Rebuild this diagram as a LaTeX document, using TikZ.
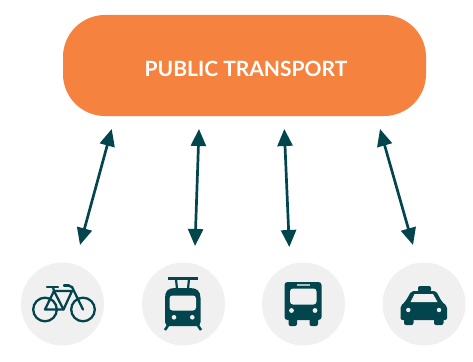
\documentclass[tikz,border=0pt]{standalone}
\usepackage{fontspec}
\setmainfont{Lato}
\usetikzlibrary{arrows.meta}
\definecolor{teal}{HTML}{03454C}
\definecolor{orng}{HTML}{F5833F}
\definecolor{pale}{HTML}{F0F0F0}
\tikzset{
  hub/.style={draw=none,fill=orng,rounded corners=42pt,minimum width=363pt,minimum height=101pt,inner sep=0pt,text=white,font=\fontsize{21}{21}\selectfont\bfseries},
  mode/.style={circle,draw=none,fill=pale,minimum size=83pt,inner sep=0pt},
  link/.style={draw=teal,line width=2.7pt,{Triangle[length=17pt,width=15pt]}-{Triangle[length=17pt,width=15pt]}},
  solid icon/.style={fill=teal,draw=none},
  hole/.style={fill=pale,draw=none},
  bikeline/.style={draw=teal,line width=2.3pt,line join=round,line cap=round}
}
\begin{document}
\begin{tikzpicture}[x=1pt,y=-1pt]
\useasboundingbox (0,0) rectangle (473,361);
\fill[white] (0,0) rectangle (473,361);
\node[hub] (pt) at (244.5,65.5) {\kern3pt\raisebox{-10.8pt}[0pt][0pt]{PUBLIC TRANSPORT}};
\node[mode] (bike) at (62.5,304) {};
\node[mode] (tram) at (183.5,304) {};
\node[mode] (bus) at (303.5,304) {};
\node[mode] (taxi) at (424,304) {};
\coordinate (a1) at (111.7,129); \coordinate (b1) at (80,245);
\coordinate (a2) at (199,129);   \coordinate (b2) at (195,246);
\coordinate (a3) at (284.3,129); \coordinate (b3) at (289.3,247);
\coordinate (a4) at (380,129);   \coordinate (b4) at (413,245);
\draw[link] (a1) -- (b1);
\draw[link] (a2) -- (b2);
\draw[link] (a3) -- (b3);
\draw[link] (a4) -- (b4);
% bicycle
\draw[bikeline] (45,309.5) circle (11.8);
\draw[bikeline] (83,309.5) circle (11.8);
\draw[bikeline] (45,309.5) -- (54,291) -- (72,291) -- (63.5,309.5) -- cycle;
\draw[bikeline] (54,291) -- (63.5,309.5);
\draw[bikeline] (68,285.5) -- (72,287) -- (83,309.5);
\draw[bikeline] (47,287) -- (58,287);
\draw[bikeline] (53,287) -- (54,291);
\draw[bikeline] (64,285.5) -- (69,285.5);
% tram
\draw[teal,line width=3pt] (168,278.5) -- (198,278.5);
\draw[teal,line width=2.2pt] (176,279) -- (177,289) (189,279) -- (188,289);
\draw[teal,line width=2.6pt] (169,324) -- (165,330) (197,324) -- (201,330);
\fill[solid icon] (165,298) .. controls (165,291) and (168,288) .. (175,288) -- (190,288) .. controls (197,288) and (200.5,291) .. (200.5,298) -- (200.5,322) .. controls (200.5,325) and (199,326) .. (197,326) -- (169,326) .. controls (167,326) and (165,325) .. (165,322) -- cycle;
\fill[hole,rounded corners=3pt] (169.5,295.5) rectangle (196,310.5);
\fill[hole] (174,317.3) circle (2.3) (192.3,317.3) circle (2.3);
% bus
\fill[solid icon,rounded corners=3pt] (284.5,282) rectangle (321.5,320);
\fill[solid icon,rounded corners=2pt] (288.5,314) rectangle (297,326);
\fill[solid icon,rounded corners=2pt] (309.5,314) rectangle (318,326);
\fill[hole,rounded corners=3pt] (290,288.5) rectangle (316.5,304.5);
\fill[pale!70!teal] (296.5,284) rectangle (310,286);
\fill[hole] (291.5,310.5) circle (2.4) (315,310.5) circle (2.4);
% taxi
\fill[solid icon,rounded corners=2pt] (418,286) rectangle (431,292);
\fill[solid icon,rounded corners=2pt] (400.5,320) -- (400.5,306) -- (405,302) -- (411.5,291) -- (436,291) -- (442,302) -- (447,306) -- (447,320) -- cycle;
\fill[solid icon,rounded corners=2pt] (404,315) rectangle (413.5,325);
\fill[solid icon,rounded corners=2pt] (434,315) rectangle (443.5,325);
\fill[hole] (414.5,294) -- (433,294) -- (437.5,302) -- (410.5,302) -- cycle;
\fill[hole] (408.3,310) circle (2.2) (439,310) circle (2.2);
\end{tikzpicture}
\end{document}
